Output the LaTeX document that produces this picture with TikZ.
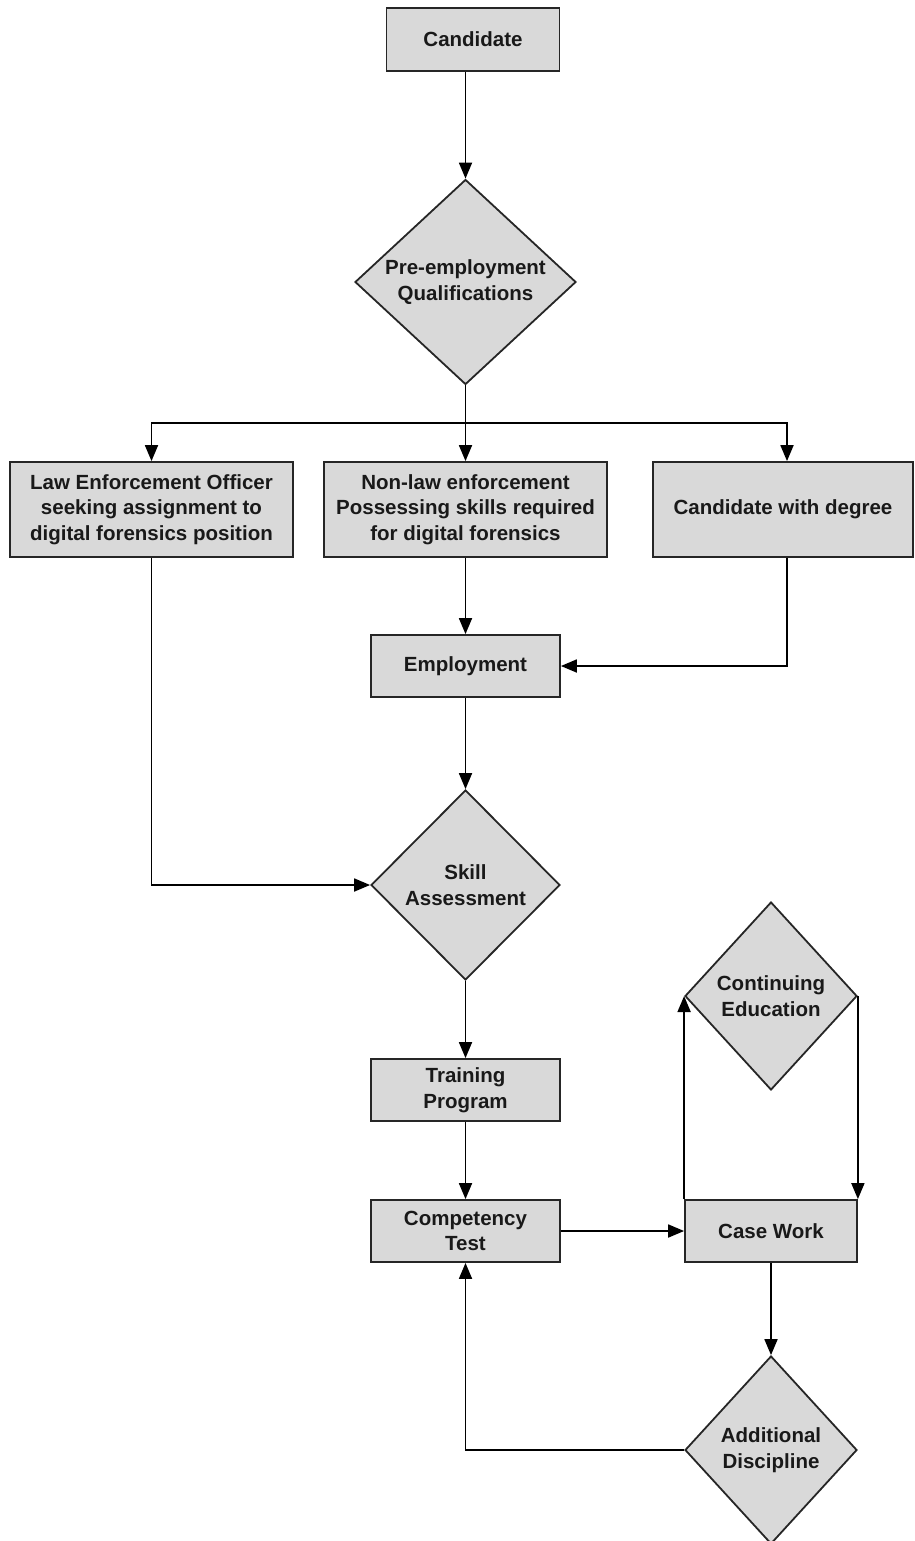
\documentclass[tikz,border=0pt]{standalone}
\usepackage{fontspec}
\setmainfont{Liberation Sans}
\usetikzlibrary{arrows.meta,shapes.geometric}
\tikzset{
  box/.style={draw=black!85,fill=black!15,line width=1.8pt,inner sep=0pt,align=center,
    font=\bfseries\fontsize{20.5}{25.5}\selectfont,text=black!90},
  decision/.style={box,diamond},
}
\begin{document}
\begin{tikzpicture}[x=1pt,y=-1pt,>={Triangle[length=16pt,width=13pt]},line width=1.8pt]
  \useasboundingbox (0,0) rectangle (914,1541);
  \node[box,minimum width=173pt,minimum height=63pt] (cand) at (473,39.5) {Candidate};
  \node[decision,minimum width=221pt,minimum height=200pt] (pre) at (465.5,282) {Pre-employment\\Qualifications};
  \node[box,minimum width=283pt,minimum height=95pt] (leo) at (151.5,509.5) {Law Enforcement Officer\\seeking assignment to\\digital forensics position};
  \node[box,minimum width=283pt,minimum height=95pt] (nonlaw) at (465.5,509.5) {Non-law enforcement\\Possessing skills required\\for digital forensics};
  \node[box,minimum width=260pt,minimum height=95pt] (degree) at (783,509.5) {Candidate with degree};
  \node[box,minimum width=189pt,minimum height=62pt] (emp) at (465.5,666) {Employment};
  \node[decision,minimum width=189pt,minimum height=190pt] (skill) at (465.5,885) {Skill\\Assessment};
  \node[box,minimum width=189pt,minimum height=62pt] (train) at (465.5,1090) {Training\\Program};
  \node[box,minimum width=189pt,minimum height=62pt] (comp) at (465.5,1231) {Competency\\Test};
  \node[box,minimum width=172pt,minimum height=62pt] (case) at (771,1231) {Case Work};
  \node[decision,minimum width=172pt,minimum height=188pt] (cont) at (771,996) {Continuing\\Education};
  \node[decision,minimum width=172pt,minimum height=188pt] (disc) at (771,1450) {Additional\\Discipline};
  \coordinate (split) at (465.5,423);
  \draw[->] (cand.south -| pre.north)--(pre.north);
  \draw (pre.south)--(split);
  \draw[->] (split)-|(leo.north);
  \draw[->] (split)--(nonlaw.north);
  \draw[->] (split)-|([xshift=4pt]degree.north);
  \draw[->] (nonlaw.south)--(emp.north);
  \draw[->] ([xshift=4pt]degree.south)|-(emp.east);
  \draw[->] (emp.south)--(skill.north);
  \draw[->] (leo.south)|-(skill.west);
  \draw[->] (skill.south)--(train.north);
  \draw[->] (train.south)--(comp.north);
  \draw[->] (comp.east)--(case.west);
  \draw[->] (case.north west)--(cont.west);
  \draw[->] (cont.east)--(case.north east);
  \draw[->] (case.south)--(disc.north);
  \draw[->] (disc.west)-|(comp.south);
\end{tikzpicture}
\end{document}
